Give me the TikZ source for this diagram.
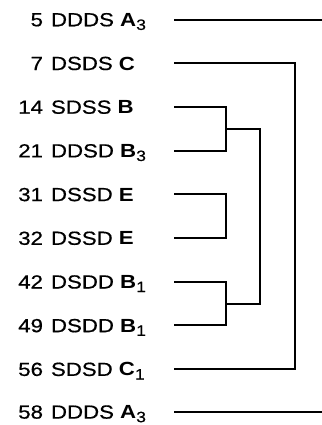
\documentclass[tikz,border=0pt]{standalone}
\usepackage{fontspec}
\setmainfont{Liberation Sans}[FakeStretch=1.17,UprightFeatures={FakeBold=0.6}]
\newcommand{\lowsub}[1]{\raisebox{-3.6bp}{\fontsize{15bp}{16bp}\selectfont #1}}
\begin{document}
\begin{tikzpicture}[x=1bp,y=-1bp,
  every node/.style={inner sep=0pt,outer sep=0pt,font=\fontsize{19bp}{22bp}\selectfont},
  num/.style={anchor=base east,yshift=-6.8bp},
  code/.style={anchor=base west,yshift=-6.8bp},
  wire/.style={line width=2bp,line join=miter}]
\useasboundingbox (0,0) rectangle (322,425);
% rows
\foreach \n/\y in {1/19.5,2/63.2,3/106.9,4/150.6,5/194.3,6/238,7/281.7,8/325.4,9/369.1,10/411.8}{
  \coordinate (s\n) at (174,\y);
}
\node[num] (n1) at (43,19.5) {5};
\node[code] (c1) at (51,19.5) {DDDS \textbf{A}\lowsub{3}};
\node[num] (n2) at (43,63.2) {7};
\node[code] (c2) at (51,63.2) {DSDS \textbf{C}};
\node[num] (n3) at (43,106.9) {14};
\node[code] (c3) at (51,106.9) {SDSS \textbf{B}};
\node[num] (n4) at (43,150.6) {21};
\node[code] (c4) at (51,150.6) {DDSD \textbf{B}\lowsub{3}};
\node[num] (n5) at (43,194.3) {31};
\node[code] (c5) at (51,194.3) {DSSD \textbf{E}};
\node[num] (n6) at (43,238) {32};
\node[code] (c6) at (51,238) {DSSD \textbf{E}};
\node[num] (n7) at (43,281.7) {42};
\node[code] (c7) at (51,281.7) {DSDD \textbf{B}\lowsub{1}};
\node[num] (n8) at (43,325.4) {49};
\node[code] (c8) at (51,325.4) {DSDD \textbf{B}\lowsub{1}};
\node[num] (n9) at (43,369.1) {56};
\node[code] (c9) at (51,369.1) {SDSD \textbf{C}\lowsub{1}};
\node[num] (n10) at (43,411.8) {58};
\node[code] (c10) at (51,411.8) {DDDS \textbf{A}\lowsub{3}};
% junction points
\coordinate (e1) at (322,19.5);
\coordinate (e10) at (322,411.8);
\coordinate (jA) at (226,128.75);
\coordinate (jE) at (226,216.15);
\coordinate (jB) at (226,303.55);
\coordinate (k) at (259.5,200);
\coordinate (jC) at (295,200);
% connectors
\draw[wire] (s1) -- (e1);
\draw[wire] (s10) -- (e10);
\draw[wire] (s2) -| (jC) |- (s9);
\draw[wire] (s3) -| (jA) |- (s4);
\draw[wire] (s5) -| (jE) |- (s6);
\draw[wire] (s7) -| (jB) |- (s8);
\draw[wire] (jA) -| (k) |- (jB);
\end{tikzpicture}
\end{document}
